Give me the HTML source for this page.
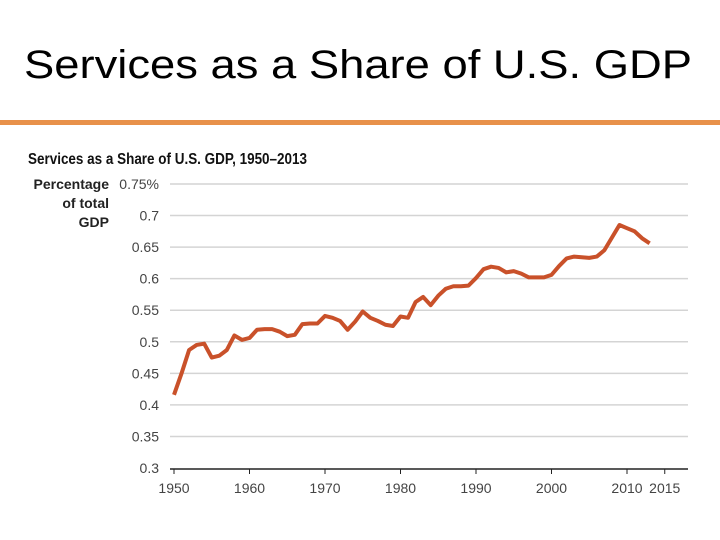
<!DOCTYPE html>
<html><head><meta charset="utf-8"><style>
body{margin:0;width:720px;height:540px;background:#fff;overflow:hidden;font-family:"Liberation Sans",sans-serif}
#rule{position:absolute;left:0;top:120px;width:720px;height:5px;background:#e8914a}
svg{position:absolute;left:0;top:0}
</style></head><body>
<div id="rule"></div>
<svg id="chart" width="720" height="540">
<text x="24" y="78" font-size="40" textLength="668" lengthAdjust="spacingAndGlyphs" fill="#000" font-family="Liberation Sans, sans-serif">Services as a Share of U.S. GDP</text>
</svg>
<script>
const years=[];for(let y=1950;y<=2013;y++)years.push(y);
const shares=[0.416,0.45,0.487,0.495,0.497,0.475,0.478,0.487,0.51,0.503,0.506,0.519,0.52,0.52,0.516,0.509,0.511,0.528,0.529,0.529,0.541,0.538,0.533,0.519,0.532,0.548,0.538,0.533,0.527,0.525,0.540,0.538,0.563,0.571,0.558,0.573,0.584,0.588,0.588,0.589,0.601,0.615,0.619,0.617,0.610,0.612,0.608,0.602,0.602,0.602,0.606,0.620,0.632,0.635,0.634,0.633,0.635,0.645,0.665,0.685,0.680,0.675,0.664,0.656];
const yTicks=[0.3,0.35,0.4,0.45,0.5,0.55,0.6,0.65,0.7,0.75];
const yTickLabels=["0.3","0.35","0.4","0.45","0.5","0.55","0.6","0.65","0.7","0.75%"];
const xTicks=[1950,1960,1970,1980,1990,2000,2010,2015];
const NS="http://www.w3.org/2000/svg";
const svg=document.getElementById('chart');
const X=v=>174+(v-1950)*7.55;
const Y=v=>468-(v-0.3)*(284/0.45);
function mk(t,a,p){const e=document.createElementNS(NS,t);for(const k in a)e.setAttribute(k,a[k]);(p||svg).appendChild(e);return e;}
const t=mk('text',{x:28,y:164,'font-size':16,'font-weight':'bold',fill:'#111',textLength:279,lengthAdjust:'spacingAndGlyphs'});
t.textContent='Services as a Share of U.S. GDP, 1950–2013';


["Percentage","of total","GDP"].forEach((s,i)=>{const e=mk('text',{x:109,y:189+i*19,'font-size':14,'font-weight':'bold','text-anchor':'end',fill:'#222'});e.textContent=s;

});
yTicks.forEach((v,i)=>{
 if(i>0){const g=mk('line',{x1:170,x2:688,y1:Y(v),y2:Y(v),stroke:'#d4d4d4','stroke-width':1.5});
 
 }
 const l=mk('text',{x:159,y:Y(v)+5,'font-size':14,'text-anchor':'end',fill:'#444'});l.textContent=yTickLabels[i];
 
 
});
const ax=mk('line',{x1:170,x2:688,y1:469,y2:469,stroke:'#222','stroke-width':1.5});


xTicks.forEach(v=>{mk('line',{x1:X(v),x2:X(v),y1:469,y2:474,stroke:'#222','stroke-width':1});
 const l=mk('text',{x:X(v),y:493,'font-size':14,'text-anchor':'middle',fill:'#444'});l.textContent=v;
 
 });
const p=mk('polyline',{points:years.map((y,i)=>X(y)+','+Y(shares[i])).join(' '),fill:'none',stroke:'#c9512a','stroke-width':4,'stroke-linejoin':'round'});


</script>
</body></html>
